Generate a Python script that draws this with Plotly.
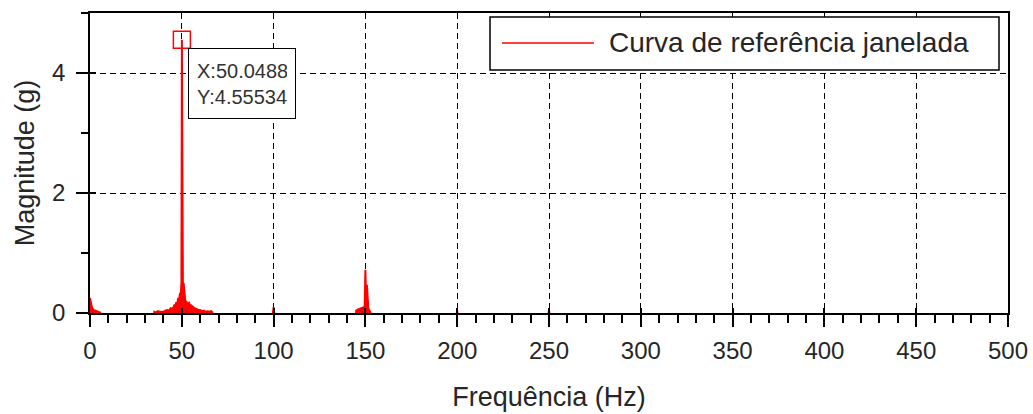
import plotly.graph_objects as go

# ---- data; None separates the visible spectral features ----
freq_hz = [0, 0.5, 1, 1.5, 2, 3, 4, 5, 6, None,
           34.9, 35, 36, 37, 38, 39, 40, 41, 42, 43, 44, 45, 46, 46.5, 47, 47.5, 48, 48.5,
           49, 49.4, 49.8, 50.0488, 50.3, 50.6, 51, 51.5, 52, 52.5, 53, 54, 54.5,
           55, 56, 57, 58, 59, 60, 61, 62, 63, 64, 65, 66, 67, None,
           99.6, 100, 100.4, None,
           144.9, 145, 146, 147, 148, 149, 149.6, 150, 150.3, 150.8, 151.2, 151.6, 152, 152.5, 153, None,
           199.7, 200, 200.3, None,
           249.7, 250, 250.3]
magnitude_g = [0.25, 0.15, 0.1, 0.07, 0.05, 0.04, 0.03, 0.02, 0.0, None,
               0.0, 0.02, 0.01, 0.03, 0.02, 0.025, 0.02, 0.04, 0.05, 0.04, 0.08, 0.06, 0.14, 0.1, 0.18, 0.14, 0.25, 0.2,
               0.33, 0.3, 0.5, 4.55534, 0.55, 0.45, 0.5, 0.25, 0.17, 0.2, 0.15, 0.17, 0.12,
               0.13, 0.1, 0.08, 0.07, 0.05, 0.05, 0.03, 0.04, 0.02, 0.03, 0.02, 0.03, 0.0, None,
               0.0, 0.1, 0.0, None,
               0.0, 0.04, 0.06, 0.07, 0.08, 0.09, 0.1, 0.72, 0.3, 0.47, 0.1, 0.08, 0.05, 0.03, 0.0, None,
               0.0, 0.03, 0.0, None,
               0.0, 0.04, 0.0]
series_name = "Curva de referência janelada"
tip_x = 50.0488
tip_y = 4.55534

x_range = [0, 500]
y_range = [0, 5]

FONT = "Liberation Sans, Arial, sans-serif"
TXT = "#262626"
RED = "#ff0000"

fig = go.Figure()
fig.add_trace(go.Scatter(x=freq_hz, y=magnitude_g, mode="lines", name=series_name,
                         fill="tozeroy", fillcolor=RED, connectgaps=False,
                         line=dict(color=RED, width=2), showlegend=False))
fig.add_trace(go.Scatter(x=[tip_x], y=[tip_y], mode="markers", showlegend=False,
                         hoverinfo="skip",
                         marker=dict(symbol="square-open", size=17,
                                     line=dict(color=RED, width=1.5), color=RED)))
# invisible trace on overlay axes (for the inner part of major ticks)
fig.add_trace(go.Scatter(x=[None], y=[None], xaxis="x2", yaxis="y2", showlegend=False,
                         hoverinfo="skip"))

# data tip
fig.add_annotation(x=tip_x, y=tip_y, xref="x", yref="y",
                   text="X:%s<br>Y:%s" % (tip_x, tip_y), showarrow=False,
                   xanchor="left", yanchor="top", xshift=6, yshift=-8, align="left",
                   width=90, height=53, valign="middle",
                   font=dict(family=FONT, size=20, color="#333333"),
                   bgcolor="white", bordercolor="black", borderwidth=1, borderpad=8)

# legend box (drawn so that the sample line has the reference's length)
fig.add_shape(type="rect", xref="paper", yref="paper",
              x0=(490 - 90) / 918, x1=(999 - 90) / 918,
              y0=(313 - 70) / 300, y1=(313 - 17) / 300,
              line=dict(color="black", width=1.5), fillcolor="white", layer="above")
fig.add_shape(type="line", xref="paper", yref="paper",
              x0=(502 - 90) / 918, x1=(594 - 90) / 918,
              y0=(313 - 43) / 300, y1=(313 - 43) / 300,
              line=dict(color=RED, width=1.5), layer="above")
fig.add_annotation(xref="paper", yref="paper", x=(607 - 90) / 918, y=(313 - 43) / 300,
                   text=series_name, showarrow=False, xanchor="left", yanchor="middle",
                   font=dict(family=FONT, size=28, color=TXT))

grid_dash = "6px,4px"
fig.update_layout(
    width=1033, height=414,
    margin=dict(l=90, r=25, t=13, b=101, autoexpand=False),
    paper_bgcolor="white", plot_bgcolor="white",
    font=dict(family=FONT, size=24, color=TXT),
    showlegend=False,
    xaxis=dict(range=x_range, dtick=50, tick0=0, showline=True, linecolor="black",
               linewidth=1.5, mirror=True, ticks="outside", ticklen=12, tickwidth=1.5,
               tickcolor="black", ticklabelstandoff=3, automargin=False,
               showgrid=True, gridcolor="black", griddash=grid_dash, gridwidth=1,
               zeroline=False,
               minor=dict(dtick=10, ticks="outside", ticklen=8, tickwidth=1.5,
                          tickcolor="black", showgrid=False),
               title=dict(text="Frequência (Hz)", font=dict(size=27, color=TXT), standoff=25)),
    yaxis=dict(range=y_range, dtick=2, tick0=0, showline=True, linecolor="black",
               linewidth=1.5, mirror=True, ticks="outside", ticklen=12, tickwidth=1.5,
               tickcolor="black", ticklabelstandoff=6, automargin=False,
               showgrid=True, gridcolor="black", griddash=grid_dash, gridwidth=1,
               zeroline=False,
               minor=dict(dtick=1, ticks="outside", ticklen=7, tickwidth=1.5,
                          tickcolor="black", showgrid=False),
               title=dict(text="Magnitude (g)", font=dict(size=27, color=TXT), standoff=10)),
    xaxis2=dict(overlaying="x", anchor="y", side="bottom", range=x_range, dtick=50, tick0=0,
                ticks="inside", ticklen=5, tickwidth=1.5, tickcolor="black",
                showticklabels=False, showgrid=False, showline=False, zeroline=False),
    yaxis2=dict(overlaying="y", anchor="x", side="left", range=y_range, dtick=2, tick0=0,
                ticks="inside", ticklen=6, tickwidth=1.5, tickcolor="black",
                showticklabels=False, showgrid=False, showline=False, zeroline=False),
)

fig.write_html("out.html")
